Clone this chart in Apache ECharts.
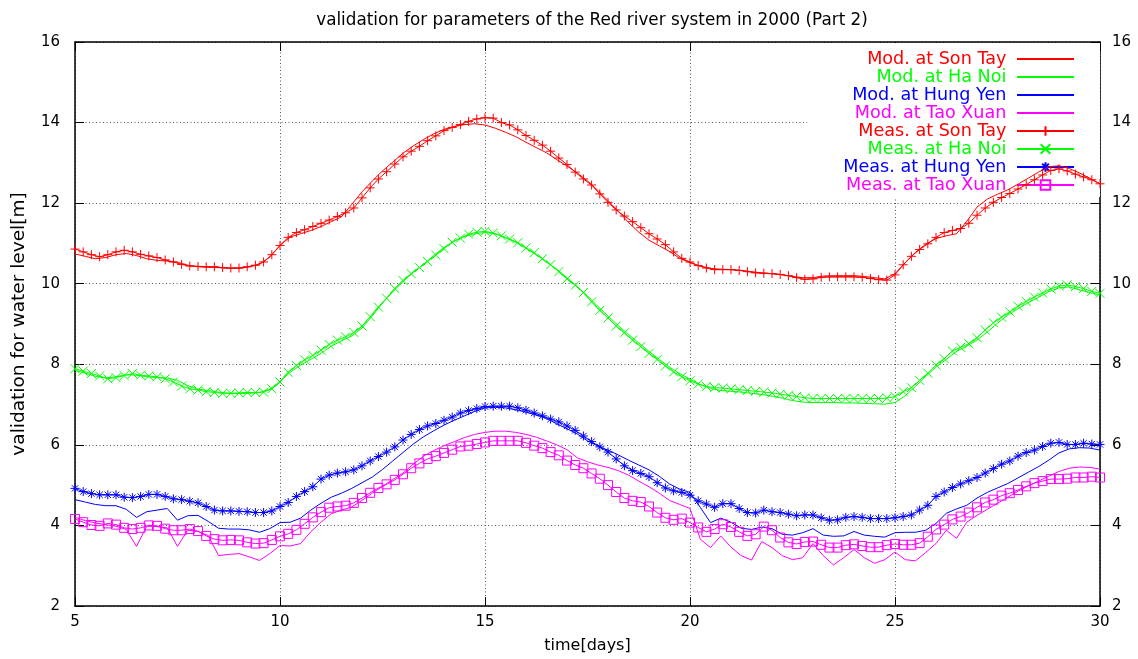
<!DOCTYPE html>
<html>
<head>
<meta charset="utf-8">
<script src="https://cdn.jsdelivr.net/npm/echarts@6.0.0/dist/echarts.min.js"></script>
<style>
  html, body { margin: 0; padding: 0; background: #fff; }
  #chart { width: 1138px; height: 659px; }
</style>
</head>
<body>
<div id="chart"></div>
<script>
// Water levels [m] along the Red river, model runs vs. gauge measurements (days 5-30, 2000)

// measurement times: every 0.2 day from day 5 to day 30
const measDays = Array.from({ length: 126 }, (_, i) => +(5 + i * 0.2).toFixed(1));
// model output times: every 0.25 day from day 5 to day 30
const modDays = Array.from({ length: 101 }, (_, i) => 5 + i * 0.25);

const measSonTay = [
  10.86,10.79,10.72,10.67,10.72,10.79,10.83,10.79,10.73,10.69,
  10.65,10.59,10.54,10.48,10.44,10.43,10.42,10.42,10.40,10.39,
  10.39,10.42,10.46,10.54,10.72,10.95,11.15,11.27,11.34,11.42,
  11.50,11.58,11.67,11.76,11.88,12.13,12.38,12.60,12.78,12.97,
  13.15,13.29,13.41,13.55,13.67,13.80,13.88,13.95,14.03,14.09,
  14.12,14.11,14.00,13.94,13.82,13.68,13.56,13.44,13.29,13.12,
  12.96,12.77,12.60,12.45,12.23,12.02,11.83,11.68,11.54,11.39,
  11.24,11.11,10.97,10.79,10.63,10.54,10.45,10.39,10.35,10.35,
  10.35,10.33,10.30,10.27,10.26,10.25,10.23,10.20,10.15,10.11,
  10.12,10.16,10.17,10.17,10.17,10.17,10.16,10.13,10.10,10.09,
  10.22,10.47,10.68,10.85,10.99,11.15,11.27,11.32,11.37,11.50,
  11.70,11.88,12.02,12.14,12.24,12.35,12.46,12.58,12.70,12.81,
  12.85,12.80,12.72,12.65,12.58,12.48
];
const measHaNoi = [
  7.89,7.83,7.77,7.71,7.64,7.67,7.72,7.77,7.73,7.71,
  7.69,7.64,7.56,7.46,7.39,7.36,7.32,7.30,7.28,7.28,
  7.29,7.30,7.30,7.31,7.39,7.56,7.80,7.97,8.11,8.22,
  8.35,8.49,8.60,8.68,8.79,8.95,9.18,9.42,9.64,9.88,
  10.08,10.25,10.40,10.55,10.71,10.87,11.03,11.13,11.23,11.28,
  11.30,11.26,11.19,11.11,11.02,10.89,10.77,10.62,10.47,10.30,
  10.12,9.96,9.78,9.55,9.34,9.15,8.95,8.78,8.60,8.44,
  8.27,8.12,7.96,7.81,7.69,7.59,7.51,7.45,7.42,7.41,
  7.39,7.37,7.35,7.33,7.31,7.29,7.26,7.23,7.20,7.17,
  7.15,7.15,7.15,7.15,7.15,7.15,7.15,7.15,7.15,7.16,
  7.20,7.32,7.42,7.60,7.78,7.98,8.14,8.33,8.42,8.51,
  8.66,8.85,9.03,9.17,9.30,9.44,9.56,9.67,9.77,9.87,
  9.94,9.97,9.93,9.88,9.81,9.76
];
const measHungYen = [
  4.92,4.84,4.79,4.76,4.76,4.76,4.70,4.69,4.72,4.77,
  4.77,4.72,4.66,4.64,4.60,4.56,4.47,4.38,4.36,4.36,
  4.35,4.34,4.32,4.32,4.36,4.47,4.57,4.72,4.84,4.96,
  5.15,5.25,5.30,5.33,5.38,5.48,5.60,5.71,5.82,5.95,
  6.12,6.26,6.38,6.47,6.53,6.61,6.69,6.79,6.85,6.90,
  6.95,6.96,6.96,6.96,6.92,6.86,6.79,6.72,6.64,6.57,
  6.47,6.36,6.22,6.08,5.95,5.82,5.65,5.48,5.36,5.29,
  5.21,5.06,4.93,4.86,4.82,4.75,4.61,4.53,4.45,4.54,
  4.54,4.42,4.32,4.31,4.38,4.34,4.32,4.28,4.24,4.26,
  4.26,4.19,4.13,4.14,4.20,4.22,4.20,4.17,4.17,4.17,
  4.19,4.22,4.26,4.38,4.50,4.72,4.83,4.94,5.03,5.11,
  5.19,5.30,5.41,5.52,5.60,5.72,5.81,5.87,5.96,6.04,
  6.06,6.01,6.01,6.04,6.02,6.01
];
const measTaoXuan = [
  4.16,4.08,4.01,3.99,4.05,4.02,3.94,3.91,3.94,4.00,
  3.99,3.92,3.88,3.88,3.91,3.86,3.74,3.66,3.63,3.64,
  3.63,3.58,3.55,3.56,3.64,3.73,3.79,3.89,4.04,4.20,
  4.33,4.44,4.47,4.49,4.56,4.68,4.81,4.93,5.02,5.13,
  5.27,5.42,5.54,5.65,5.72,5.80,5.88,5.96,5.98,6.02,
  6.06,6.10,6.10,6.10,6.10,6.05,5.98,5.92,5.82,5.74,
  5.61,5.50,5.42,5.29,5.16,5.00,4.83,4.68,4.61,4.58,
  4.47,4.32,4.19,4.14,4.17,4.07,3.95,3.84,3.91,4.03,
  3.96,3.84,3.74,3.78,3.97,3.88,3.70,3.58,3.54,3.59,
  3.60,3.52,3.45,3.45,3.51,3.53,3.49,3.46,3.46,3.51,
  3.54,3.52,3.52,3.56,3.72,3.90,4.02,4.15,4.22,4.32,
  4.45,4.57,4.64,4.74,4.80,4.88,4.97,5.05,5.10,5.15,
  5.15,5.16,5.19,5.19,5.21,5.19
];

const modSonTay = [
  10.74,10.68,10.62,10.65,10.72,10.75,10.70,10.62,
  10.58,10.56,10.53,10.46,10.42,10.41,10.40,10.38,
  10.38,10.42,10.48,10.66,10.95,11.16,11.24,11.32,
  11.42,11.54,11.66,11.97,12.28,12.55,12.80,13.02,
  13.24,13.42,13.58,13.72,13.83,13.90,13.95,13.97,
  13.94,13.86,13.76,13.65,13.51,13.38,13.25,13.08,
  12.92,12.75,12.55,12.32,12.06,11.80,11.52,11.28,
  11.08,10.94,10.80,10.63,10.52,10.44,10.38,10.36,
  10.35,10.33,10.30,10.27,10.25,10.22,10.18,10.15,
  10.15,10.19,10.20,10.20,10.20,10.18,10.15,10.12,
  10.25,10.52,10.78,10.98,11.12,11.19,11.24,11.55,
  11.90,12.10,12.22,12.33,12.47,12.62,12.77,12.90,
  12.93,12.86,12.75,12.62,12.48
];
const modHaNoi = [
  7.85,7.78,7.70,7.66,7.69,7.74,7.73,7.69,
  7.67,7.66,7.60,7.47,7.38,7.35,7.31,7.28,
  7.27,7.28,7.30,7.38,7.58,7.80,7.98,8.12,
  8.27,8.45,8.58,8.70,8.90,9.20,9.52,9.80,
  10.05,10.28,10.48,10.70,10.90,11.06,11.17,11.24,
  11.27,11.24,11.14,11.03,10.88,10.72,10.54,10.36,
  10.15,9.93,9.70,9.44,9.20,8.96,8.74,8.53,
  8.32,8.12,7.93,7.77,7.63,7.50,7.40,7.35,
  7.33,7.31,7.28,7.25,7.21,7.16,7.10,7.06,
  7.05,7.05,7.05,7.04,7.04,7.03,7.02,7.01,
  7.05,7.22,7.45,7.70,7.93,8.12,8.32,8.45,
  8.60,8.80,9.02,9.22,9.38,9.53,9.66,9.80,
  9.90,9.92,9.85,9.78,9.72
];
const modHungYen = [
  4.64,4.58,4.52,4.49,4.49,4.40,4.20,4.34,
  4.38,4.42,4.13,4.24,4.25,4.10,3.93,3.91,
  3.91,3.89,3.83,3.92,4.07,4.08,4.18,4.38,
  4.55,4.70,4.80,4.92,5.06,5.20,5.39,5.60,
  5.81,6.02,6.20,6.35,6.49,6.61,6.72,6.83,
  6.92,6.93,6.92,6.87,6.81,6.74,6.66,6.52,
  6.40,6.27,6.10,5.97,5.87,5.75,5.62,5.50,
  5.38,5.22,5.03,4.90,4.82,4.45,4.07,4.18,
  4.08,3.93,3.90,3.96,3.92,3.78,3.76,3.82,
  3.92,3.76,3.73,3.74,3.85,3.76,3.73,3.71,
  3.82,3.83,3.83,3.88,4.05,4.30,4.41,4.50,
  4.68,4.82,4.93,5.04,5.18,5.32,5.46,5.62,
  5.80,5.90,5.93,5.92,5.87
];
const modTaoXuan = [
  4.20,4.12,4.06,4.02,3.98,3.90,3.48,3.98,
  3.97,3.94,3.48,3.88,3.85,3.75,3.25,3.28,
  3.30,3.22,3.13,3.30,3.50,3.49,3.55,3.84,
  4.08,4.29,4.38,4.46,4.62,4.80,4.97,5.14,
  5.30,5.52,5.72,5.86,5.98,6.08,6.18,6.26,
  6.31,6.34,6.34,6.31,6.26,6.19,6.10,6.00,
  5.88,5.68,5.58,5.50,5.44,5.36,5.25,5.10,
  4.96,4.80,4.62,4.52,4.42,3.66,3.45,3.74,
  3.46,3.25,3.14,3.60,3.45,3.25,3.15,3.20,
  3.55,3.25,3.02,3.20,3.40,3.20,3.06,3.15,
  3.34,3.15,3.12,3.33,3.55,3.88,3.68,4.08,
  4.25,4.40,4.55,4.70,4.85,4.98,5.10,5.22,
  5.34,5.42,5.45,5.44,5.40
];

const yTicks = [2, 4, 6, 8, 10, 12, 14, 16];
const xTicks = [5, 10, 15, 20, 25, 30];

const RED = '#ff0000', GREEN = '#00ff00', BLUE = '#0000ff', MAGENTA = '#ff00ff';
const NONE = 'rgba(0,0,0,0)';
const FONT = 'DejaVu Sans';

// gnuplot-like point shapes, drawn as outlines
const PLUS = 'path://M5,0L5,10M0,5L10,5';
const CROSS = 'path://M0,0L10,10M10,0L0,10';
const STAR = 'path://M5,0L5,10M0,5L10,5M1.5,1.5L8.5,8.5M8.5,1.5L1.5,8.5';
const BOX = 'path://M0,0L10,0L10,10L0,10Z';

const pairs = (xs, ys) => xs.map((x, i) => [x, ys[i]]);

function modelSeries(name, color, days, values) {
  return {
    name, type: 'line', data: pairs(days, values),
    symbol: 'none', z: 3,
    lineStyle: { color, width: 1 },
    // no point marks for model output (also keeps the key entry a bare line)
    itemStyle: { color: NONE, borderWidth: 0 },
    emphasis: { disabled: true }
  };
}
function measSeries(name, color, shape, days, values) {
  return {
    name, type: 'line', data: pairs(days, values),
    symbol: shape, symbolSize: 9, showAllSymbol: true, z: 3,
    lineStyle: { color, width: 1 },
    itemStyle: { color: NONE, borderColor: color, borderWidth: 1 },
    emphasis: { disabled: true }
  };
}

const series = [
  modelSeries('Mod. at Son Tay', RED, modDays, modSonTay),
  modelSeries('Mod. at Ha Noi', GREEN, modDays, modHaNoi),
  modelSeries('Mod. at Hung Yen', BLUE, modDays, modHungYen),
  modelSeries('Mod. at Tao Xuan', MAGENTA, modDays, modTaoXuan),
  measSeries('Meas. at Son Tay', RED, PLUS, measDays, measSonTay),
  measSeries('Meas. at Ha Noi', GREEN, CROSS, measDays, measHaNoi),
  measSeries('Meas. at Hung Yen', BLUE, STAR, measDays, measHungYen),
  measSeries('Meas. at Tao Xuan', MAGENTA, BOX, measDays, measTaoXuan)
];
const legendColors = [RED, GREEN, BLUE, MAGENTA, RED, GREEN, BLUE, MAGENTA];

const axisLineStyle = { color: '#000', width: 1.5 };
const gridDots = { color: '#555', width: 1, type: [1, 2.5] };
const tickStyle = { show: true, inside: true, length: 9, lineStyle: { color: '#000', width: 1 } };

const chart = echarts.init(document.getElementById('chart'), null, { renderer: 'canvas' });
chart.setOption({
  animation: false,
  backgroundColor: '#fff',
  textStyle: { fontFamily: FONT },
  title: {
    text: 'validation for parameters of the Red river system in 2000 (Part 2)',
    left: 587, top: 7, textAlign: 'center',
    textStyle: { fontFamily: FONT, fontSize: 16.8, fontWeight: 'normal', color: '#000' }
  },
  legend: {
    orient: 'vertical', align: 'right',
    right: 38, top: 43, z: 1,
    padding: [7, 25, 3, 36],
    backgroundColor: '#fff',
    itemWidth: 57, itemHeight: 12, itemGap: 0,
    formatter: n => n + ' ',
    textStyle: { fontFamily: FONT, fontSize: 17.6, lineHeight: 16 },
    data: series.map((s, i) => ({ name: s.name, textStyle: { color: legendColors[i] } })),
    selectedMode: false
  },
  grid: { left: 75, right: 38, top: 42, bottom: 52 },
  xAxis: [{
    type: 'value', min: xTicks[0], max: xTicks[xTicks.length - 1], interval: 5,
    position: 'bottom',
    name: 'time[days]', nameLocation: 'middle', nameGap: 32,
    nameTextStyle: { fontFamily: FONT, fontSize: 16, color: '#000' },
    axisLine: { show: true, lineStyle: axisLineStyle },
    axisTick: tickStyle,
    axisLabel: { color: '#000', fontSize: 15, fontFamily: FONT, margin: 9 },
    splitLine: { show: true, lineStyle: gridDots }
  }, {
    type: 'value', min: xTicks[0], max: xTicks[xTicks.length - 1], interval: 5,
    position: 'top',
    axisLine: { show: true, lineStyle: axisLineStyle },
    axisTick: tickStyle,
    axisLabel: { show: false },
    splitLine: { show: false }
  }],
  yAxis: [{
    type: 'value', min: yTicks[0], max: yTicks[yTicks.length - 1], interval: 2,
    position: 'left',
    name: 'validation for water level[m]', nameLocation: 'middle', nameGap: 46, nameRotate: 90,
    nameTextStyle: { fontFamily: FONT, fontSize: 18.5, color: '#000' },
    axisLine: { show: true, lineStyle: axisLineStyle },
    axisTick: tickStyle,
    axisLabel: { color: '#000', fontSize: 15, fontFamily: FONT, margin: 15 },
    splitLine: { show: true, lineStyle: gridDots }
  }, {
    type: 'value', min: yTicks[0], max: yTicks[yTicks.length - 1], interval: 2,
    position: 'right',
    axisLine: { show: true, lineStyle: axisLineStyle },
    axisTick: tickStyle,
    axisLabel: { color: '#000', fontSize: 15, fontFamily: FONT, margin: 12 },
    splitLine: { show: false }
  }],
  series
});
</script>
</body>
</html>
